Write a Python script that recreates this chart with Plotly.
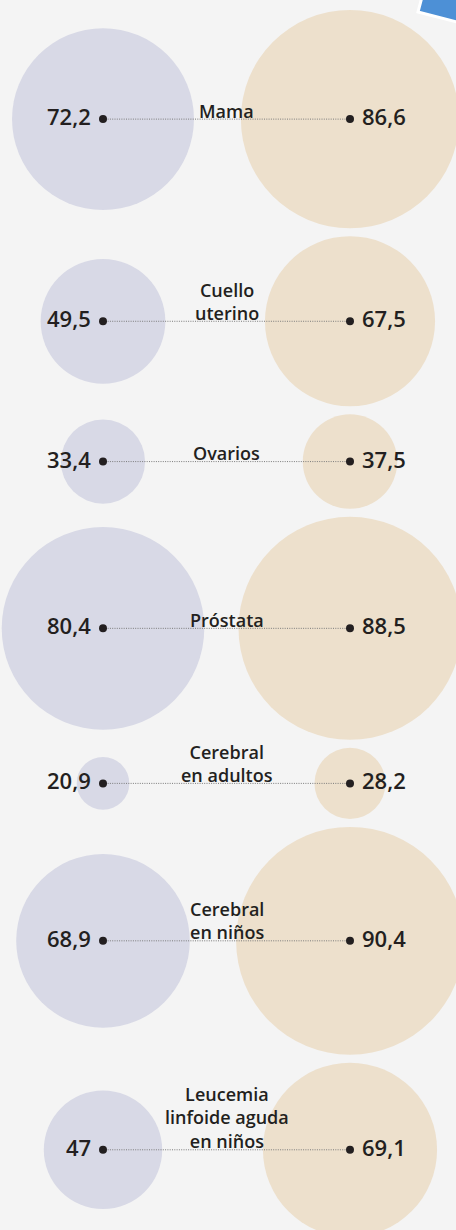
import plotly.graph_objects as go

# ---- data ----
categories = [
    ["Mama"],
    ["Cuello", "uterino"],
    ["Ovarios"],
    ["Próstata"],
    ["Cerebral", "en adultos"],
    ["Cerebral", "en niños"],
    ["Leucemia", "linfoide aguda", "en niños"],
]
left_values = [72.2, 49.5, 33.4, 80.4, 20.9, 68.9, 47]
right_values = [86.6, 67.5, 37.5, 88.5, 28.2, 90.4, 69.1]

# ---- layout constants ----
W, H = 456, 1230
PX = 1.26          # radius in px per unit of value
X_L, X_R = 103, 350
TOP_PAD, GAP = 10, 8
BG = "#f4f4f4"
LEFT_C = "#d8d9e6"
RIGHT_C = "#ede0cc"
INK = "#231f20"
FONT = "Open Sans"


def fmt(v):
    return ("%g" % v).replace(".", ",")


rmax = [max(a, b) * PX for a, b in zip(left_values, right_values)]
ys = []
for i, r in enumerate(rmax):
    if i == 0:
        ys.append(TOP_PAD + r)
    else:
        ys.append(ys[-1] + rmax[i - 1] + r + GAP)

fig = go.Figure()

fig.add_trace(go.Scatter(
    x=[X_L] * len(ys), y=ys, mode="markers", hoverinfo="skip",
    marker=dict(size=[2 * PX * v for v in left_values], color=LEFT_C, line=dict(width=0), opacity=1),
))
fig.add_trace(go.Scatter(
    x=[X_R] * len(ys), y=ys, mode="markers", hoverinfo="skip",
    marker=dict(size=[2 * PX * v for v in right_values], color=RIGHT_C, line=dict(width=0), opacity=1),
))

lx, ly = [], []
for y in ys:
    lx += [X_L, X_R, None]
    ly += [y, y, None]
fig.add_trace(go.Scatter(
    x=lx, y=ly, mode="lines", hoverinfo="skip",
    line=dict(color="#7a7a7a", width=1, dash="1px,1.3px"),
))
fig.add_trace(go.Scatter(
    x=[X_L] * len(ys) + [X_R] * len(ys), y=ys + ys, mode="markers", hoverinfo="skip",
    marker=dict(size=8, color=INK, line=dict(width=0)),
))

ann = []
for y, lv, rv, cat in zip(ys, left_values, right_values, categories):
    ann.append(dict(x=X_L - 10, y=y - 3, xref="x", yref="y", text=fmt(lv), showarrow=False,
                    xanchor="right", yanchor="middle",
                    font=dict(family=FONT, size=22, color=INK, weight=600)))
    ann.append(dict(x=X_R + 10, y=y - 3, xref="x", yref="y", text=fmt(rv), showarrow=False,
                    xanchor="left", yanchor="middle",
                    font=dict(family=FONT, size=22, color=INK, weight=600)))
    ann.append(dict(x=(X_L + X_R) / 2, y=y + 3.5, xref="x", yref="y", text="<br>".join(cat),
                    showarrow=False, xanchor="center", yanchor="bottom", align="center",
                    borderpad=0, borderwidth=0,
                    font=dict(family=FONT, size=18, color=INK, weight=600)))

shapes = [dict(
    type="path", xref="x", yref="y", layer="above",
    path="M 418 12 L 480 28 L 496 -40 L 436 -56 Z",
    fillcolor="#4d90d6", line=dict(color="white", width=3),
)]

fig.update_layout(
    width=W, height=H, autosize=False,
    margin=dict(l=0, r=0, t=0, b=0, pad=0),
    paper_bgcolor=BG, plot_bgcolor=BG,
    showlegend=False,
    xaxis=dict(range=[0, W], visible=False, fixedrange=True),
    yaxis=dict(range=[H, 0], visible=False, fixedrange=True),
    annotations=ann, shapes=shapes,
)

fig.write_html(
    "out.html",
    config={"displayModeBar": False},
    post_script="document.body.style.margin='0';document.body.style.padding='0';"
                "document.body.style.background='#f4f4f4';document.body.style.overflow='hidden';",
)
